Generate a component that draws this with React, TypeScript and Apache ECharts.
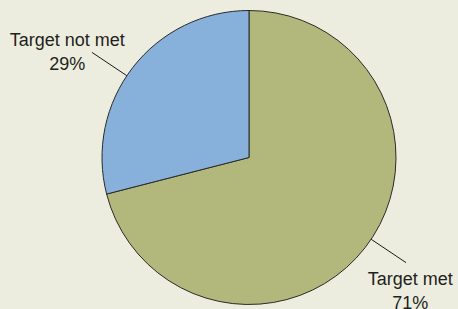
import React, { useEffect, useRef } from "react";
import * as echarts from "echarts";

const categories = ["Target met", "Target not met"];
const values = [71, 29];
const colors = ["#b2b87c", "#87b0da"];

const CENTER: [number, number] = [249, 157.5];
const RADIUS = 147;
const LINE_SHIFT_DEG = 4;
const labelOffsets: [number, number][] = [
  [4.3, 28.7],
  [-24.6, -0.5],
];

function rotatePoint(pt: number[], deg: number): number[] {
  const t = (deg * Math.PI) / 180;
  const dx = pt[0] - CENTER[0];
  const dy = pt[1] - CENTER[1];
  return [
    CENTER[0] + dx * Math.cos(t) + dy * Math.sin(t),
    CENTER[1] - dx * Math.sin(t) + dy * Math.cos(t),
  ];
}

export default function App() {
  const ref = useRef<HTMLDivElement>(null);
  useEffect(() => {
    if (!ref.current) return;
    const chart = echarts.init(ref.current, undefined, { renderer: "svg" });
    chart.setOption({
      animation: false,
      backgroundColor: "#ededdf",
      series: [
        {
          type: "pie",
          center: CENTER,
          radius: RADIUS,
          startAngle: 90,
          clockwise: true,
          avoidLabelOverlap: false,
          data: categories.map((name, i) => ({
            name,
            value: values[i],
            itemStyle: { color: colors[i] },
          })),
          itemStyle: { borderColor: "#2a2a2a", borderWidth: 1 },
          label: {
            show: true,
            position: "outside",
            formatter: (p: any) => `${p.name}\n${Math.round(p.percent)}%`,
            fontFamily: "'Liberation Sans', Arial, sans-serif",
            fontSize: 18,
            lineHeight: 24,
            color: "#231f20",
            align: "center",
          },
          labelLine: {
            show: true,
            length: 42,
            length2: 0,
            smooth: false,
            lineStyle: { color: "#1a1a1a", width: 1 },
          },
          labelLayout: (p: any) => {
            const pts = p.labelLinePoints;
            if (!pts || pts.length < 2) return {};
            const a = rotatePoint(pts[0], LINE_SHIFT_DEG);
            const b = rotatePoint(pts[1], LINE_SHIFT_DEG);
            const off = labelOffsets[p.dataIndex];
            return {
              x: b[0] + off[0],
              y: b[1] + off[1],
              align: "center",
              verticalAlign: "middle",
              labelLinePoints: [a, b, b],
            };
          },
          emphasis: { disabled: true },
        },
      ],
    });
    return () => chart.dispose();
  }, []);
  return (
    <div
      ref={ref}
      style={{ position: "absolute", left: 0, top: 0, width: 458, height: 309 }}
    />
  );
}
